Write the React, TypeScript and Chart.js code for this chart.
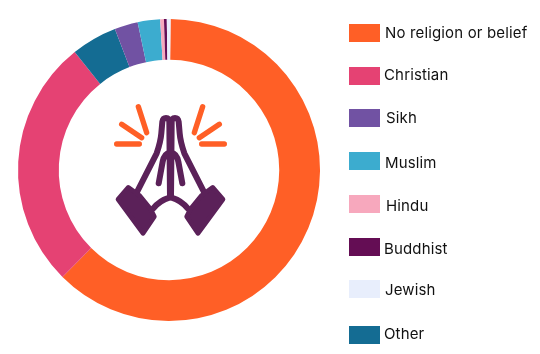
import React, { useEffect, useRef } from "react";
import { Chart, registerables } from "chart.js";

Chart.register(...registerables);

const categories = ["No religion or belief", "Christian", "Other", "Sikh", "Muslim", "Hindu", "Buddhist", "Jewish"];
const values = [62.3, 26.8, 4.9, 2.5, 2.4, 0.4, 0.3, 0.4];
const colours = ["#FF5F26", "#E54273", "#146C93", "#7152A3", "#3CACCF", "#F7A8BD", "#640D54", "#E8EEFC"];

const legendOrder = ["No religion or belief", "Christian", "Sikh", "Muslim", "Hindu", "Buddhist", "Jewish", "Other"];
const legendTops = [24, 67, 109, 152, 195, 238, 280, 326];
const legendTextTops = [23, 65, 108, 153, 196, 239, 280, 324];
const legendTextLeft = [385, 384, 386, 385, 386, 384, 385, 384];

const prayerIcon = {
  id: "prayerIcon",
  afterDraw(chart: Chart) {
    const ctx = chart.ctx;
    const sparks = new Path2D("M115 50L140 128M65 103L125 143M50 162L118 162");
    const outline = new Path2D(
      "M112 304L170 190Q182 155 184 130L187 95Q189 84 198 84Q208 84 208 98L210 320M176 280L188 215Q193 190 210 188M160 355Q178 332 210 322"
    );
    const cuff = new Path2D("M85 292L54 328L129 430L163 380L151 356L118 316Z");
    const side = (mirror: boolean) => {
      ctx.save();
      ctx.translate(100, 90);
      ctx.scale(1 / 3, 1 / 3);
      if (mirror) {
        ctx.translate(423, 0);
        ctx.scale(-1, 1);
      }
      ctx.lineCap = "round";
      ctx.lineJoin = "round";
      ctx.strokeStyle = "#FF5F26";
      ctx.lineWidth = 16;
      ctx.stroke(sparks);
      ctx.strokeStyle = "#5B2159";
      ctx.lineWidth = 18;
      ctx.stroke(outline);
      ctx.fillStyle = "#5B2159";
      ctx.lineWidth = 14;
      ctx.fill(cuff);
      ctx.stroke(cuff);
      ctx.restore();
    };
    side(false);
    side(true);
  },
};

export default function App() {
  const ref = useRef<HTMLCanvasElement>(null);
  useEffect(() => {
    const chart = new Chart(ref.current!, {
      type: "doughnut",
      data: {
        labels: categories,
        datasets: [{ data: values, backgroundColor: colours, borderWidth: 0 }],
      },
      options: {
        animation: false,
        responsive: false,
        cutout: "73%",
        rotation: 0.6,
        layout: { padding: { left: 18, top: 19, right: 220, bottom: 33 } },
        plugins: { legend: { display: false }, tooltip: { enabled: false } },
      },
      plugins: [prayerIcon],
    });
    return () => chart.destroy();
  }, []);
  return (
    <div style={{ position: "absolute", left: 0, top: 0, width: 540, height: 354, background: "#fff", overflow: "hidden" }}>
      <canvas ref={ref} width={540} height={354} style={{ display: "block" }} />
      {legendOrder.map((name, i) => (
        <React.Fragment key={name}>
          <div
            style={{
              position: "absolute",
              left: 349,
              top: legendTops[i],
              width: 31,
              height: 18,
              background: colours[categories.indexOf(name)],
            }}
          />
          <div
            style={{
              position: "absolute",
              left: legendTextLeft[i],
              top: legendTextTops[i],
              lineHeight: "20px",
              fontFamily: "Inter, sans-serif",
              fontSize: 15,
              letterSpacing: 0.15,
              color: "#111",
              whiteSpace: "nowrap",
            }}
          >
            {name}
          </div>
        </React.Fragment>
      ))}
    </div>
  );
}
